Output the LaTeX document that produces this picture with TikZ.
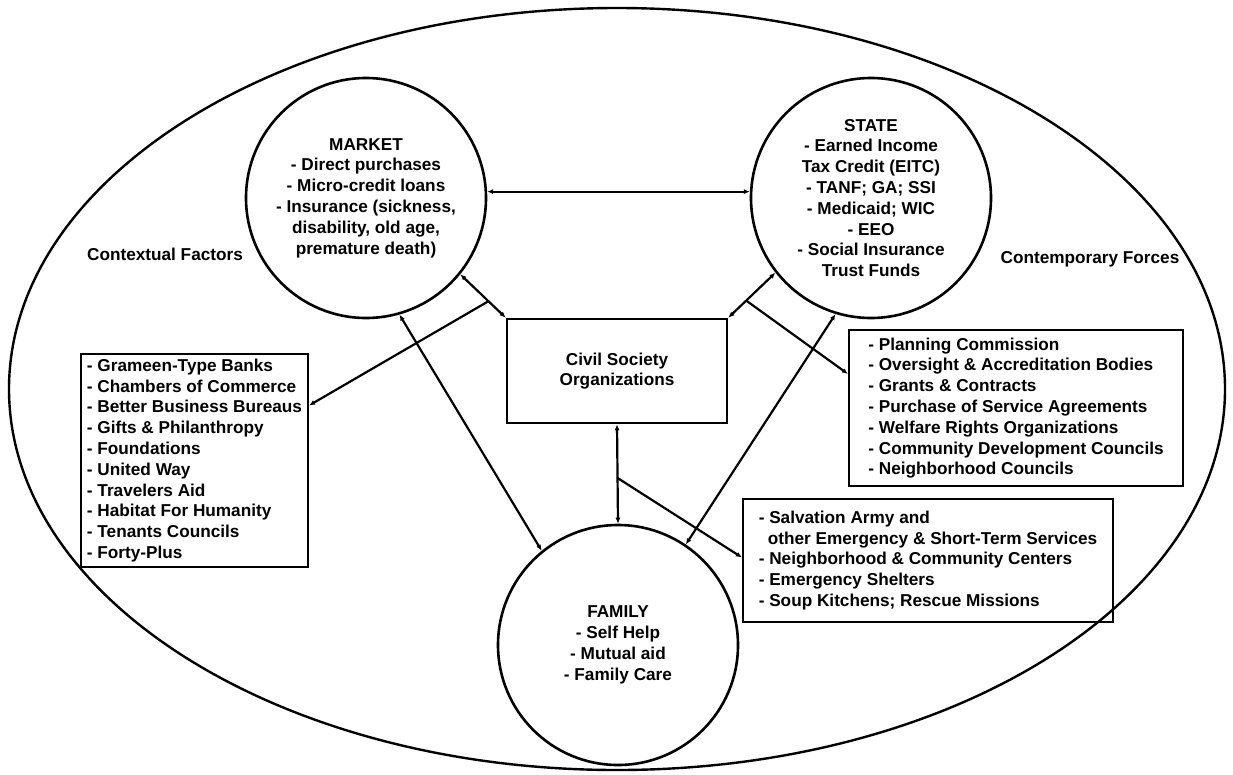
\documentclass[tikz,border=0pt]{standalone}
\usepackage{fontspec}
\setmainfont{Liberation Sans}
\usetikzlibrary{arrows.meta,calc}

\begin{document}
\begin{tikzpicture}[x=1pt,y=-1pt,
  every node/.style={font=\bfseries\fontsize{17.2}{20.8}\selectfont},
  sector/.style={draw,circle,line width=2.6pt,minimum size=240pt,inner sep=0pt,align=center},
  listbox/.style={draw,rectangle,line width=2pt,align=left,inner sep=0pt},
  link/.style={line width=2.2pt,{Latex[length=6pt,width=5pt]}-{Latex[length=6pt,width=5pt]}},
  branch/.style={line width=2.2pt,-{Latex[length=6pt,width=5pt]}}]
\useasboundingbox (0,0) rectangle (1233,774);
% outer frame
\draw[line width=2.4pt] (617,389) ellipse [x radius=608pt, y radius=381pt];
\node (ctx) at (165,254) {Contextual Factors};
\node (cont) at (1090,259) {Contemporary Forces};
% the three sectors
\node[sector] (market) at (366,198) {MARKET\\- Direct purchases\\- Micro-credit loans\\- Insurance (sickness,\\disability, old age,\\premature death)};
\node[sector] (state) at (871,198) {STATE\\- Earned Income\\Tax Credit (EITC)\\- TANF; GA; SSI\\- Medicaid; WIC\\- EEO\\- Social Insurance\\Trust Funds};
\node[sector] (family) at (618,645) {FAMILY\\- Self Help\\- Mutual aid\\- Family Care};
% civil society and the lists
\node[listbox,line width=2.6pt,align=center,minimum width=220pt,minimum height=104pt] (civil) at (617,371) {Civil Society\\Organizations};
\node[listbox,minimum width=227pt,minimum height=213pt] (ctxbox) at (194.5,460.5)
  {- Grameen-Type Banks\\- Chambers of Commerce\\- Better Business Bureaus\\- Gifts \& Philanthropy\\- Foundations\\- United Way\\- Travelers Aid\\- Habitat For Humanity\\- Tenants Councils\\- Forty-Plus};
\node[listbox,minimum width=334pt,minimum height=156pt] (govbox) at (1016,408)
  {- Planning Commission\\- Oversight \& Accreditation Bodies\\- Grants \& Contracts\\- Purchase of Service Agreements\\- Welfare Rights Organizations\\- Community Development Councils\\- Neighborhood Councils};
\node[listbox,minimum width=370pt,minimum height=123pt] (helpbox) at (928,560.5)
  {- Salvation Army and\\\hspace*{9pt}other Emergency \& Short-Term Services\\- Neighborhood \& Community Centers\\- Emergency Shelters\\- Soup Kitchens; Rescue Missions};
% connectors
\draw[link] (market.3) -- (state.177);
\draw[link] (market.-39) -- (civil.north west);
\draw[link] (state.218) -- (civil.north east);
\draw[link] (market.-74) -- (family.129);
\draw[link] (state.-107) -- (family.56);
\draw[link] (civil.south) -- (family.north);
\coordinate (mk) at ($(market.-39)!0.62!(civil.north west)$);
\coordinate (st) at ($(state.218)!0.62!(civil.north east)$);
\coordinate (cf) at ($(civil.south)!0.54!(family.north)$);
\draw[branch] (mk) -- ([yshift=55pt]ctxbox.east);
\draw[branch] (st) -- ([yshift=34pt]govbox.west);
\draw[branch] (cf) -- ([yshift=3pt]helpbox.west);
\end{tikzpicture}
\end{document}
